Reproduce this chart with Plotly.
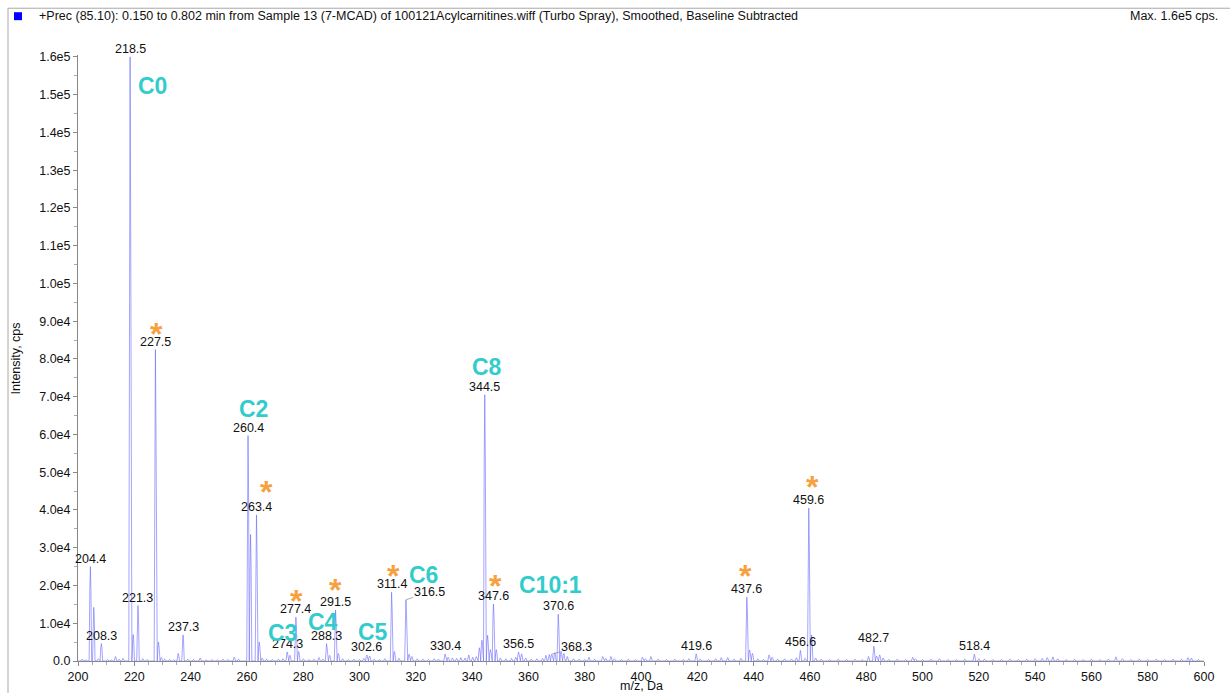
import plotly.graph_objects as go

# ---------------- data ----------------
# labelled peaks (m/z, intensity cps)
label_mz = [204.4, 208.3, 218.5, 221.3, 227.5, 237.3, 260.4, 263.4, 274.3, 277.4,
            288.3, 291.5, 302.6, 311.4, 316.5, 330.4, 344.5, 347.6, 356.5, 368.3,
            370.6, 419.6, 437.6, 456.6, 459.6, 482.7, 518.4]
label_int = [25000, 4600, 160000, 14700, 82500, 6900, 59700, 38700, 2400, 11600,
             4600, 13500, 1600, 18200, 16200, 1800, 70500, 15100, 2400, 1800,
             12400, 1900, 16900, 2800, 40500, 3900, 1800]

# unlabelled peaks and baseline noise
minor_mz = [201.5, 202.8, 205.6, 207.2, 210.5, 211.8, 213.3, 214.6, 216.0, 219.6,
            223.0, 224.5, 228.6, 229.6, 230.8, 232.5, 234.0, 235.6, 239.0, 241.0,
            243.4, 245.5, 247.5, 249.5, 251.5, 253.2, 255.5, 257.0, 261.3, 264.4,
            265.4, 267.0, 269.0, 271.2, 272.8, 275.3, 278.4, 280.0, 282.0, 283.8,
            285.6, 287.0, 289.4, 292.5, 294.0, 296.0, 298.0, 300.0, 301.5, 303.6,
            305.2, 307.0, 309.0, 312.4, 314.0, 317.6, 318.6, 320.5, 322.5, 324.5,
            326.5, 328.0, 331.5, 333.0, 334.5, 336.0, 337.5, 338.8, 340.2, 341.5,
            342.6, 343.5, 345.5, 346.5, 348.6, 350.0, 352.0, 354.0, 355.5, 357.6,
            359.0, 361.0, 363.0, 365.0, 366.2, 367.4, 369.4, 371.6, 372.6, 373.8,
            376.0, 378.0, 380.0, 381.5, 383.5, 386.4, 387.5, 389.3, 390.5, 393.0,
            395.5, 398.0, 400.5, 401.6, 403.5, 406.0, 409.0, 412.0, 415.0, 417.0,
            421.0, 424.0, 426.5, 428.5, 430.8, 433.0, 435.5, 438.6, 439.6, 441.5,
            443.5, 445.5, 446.6, 448.5, 451.0, 453.5, 455.2, 458.3, 460.6, 462.0,
            464.0, 467.0, 470.0, 473.0, 476.0, 478.5, 480.8, 483.7, 484.8, 486.0,
            488.0, 491.0, 494.0, 496.5, 497.5, 500.0, 503.0, 506.0, 509.0, 512.0,
            515.0, 520.0, 522.0, 525.0, 528.0, 531.0, 534.0, 537.0, 540.0, 542.5,
            544.3, 546.3, 548.0, 551.0, 554.0, 557.0, 560.0, 563.0, 566.0, 568.7,
            571.0, 574.0, 577.0, 580.0, 583.0, 586.0, 589.0, 592.0, 594.3, 595.5,
            598.0]
minor_int = [500, 300, 14200, 600, 400, 300, 1200, 500, 700, 7000,
             600, 400, 5000, 900, 500, 400, 300, 2000, 500, 400,
             800, 300, 400, 300, 500, 400, 1000, 500, 33500, 5000,
             800, 500, 400, 500, 600, 1500, 2500, 600, 400, 500,
             900, 500, 1500, 2000, 600, 400, 500, 400, 700, 1300,
             500, 400, 600, 2500, 700, 1800, 1200, 600, 500, 400,
             600, 500, 1000, 800, 700, 900, 800, 1600, 1000, 1200,
             3500, 5500, 6800, 3000, 3000, 800, 600, 700, 1000, 1900,
             800, 500, 600, 700, 1500, 1700, 2200, 2600, 2000, 1200,
             600, 500, 400, 1000, 500, 1200, 700, 1200, 600, 400,
             500, 400, 1000, 600, 1200, 500, 400, 500, 400, 600,
             500, 400, 600, 900, 900, 500, 700, 2900, 2000, 600,
             400, 1600, 1000, 500, 600, 500, 900, 700, 6900, 800,
             500, 400, 500, 400, 500, 400, 1200, 1300, 1600, 800,
             400, 500, 400, 1000, 600, 400, 500, 600, 400, 400,
             500, 600, 500, 400, 400, 500, 400, 500, 600, 700,
             900, 1100, 600, 400, 500, 400, 500, 400, 500, 1100,
             600, 400, 500, 400, 500, 400, 500, 500, 900, 800,
             400]

# compound annotations
compound_names = ["C0", "C2", "C3", "C4", "C5", "C6", "C8", "C10:1"]
compound_x = [226.6, 262.2, 272.8, 287.0, 304.8, 322.9, 345.3, 368.0]
compound_y = [152300, 66700, 7400, 10300, 7600, 22900, 78000, 20000]

# asterisk annotations
star_x = [228.0, 267.0, 277.55, 291.65, 312.0, 348.4, 437.1, 460.75]
star_y = [88850, 46960, 18100, 20820, 24640, 21920, 24560, 48220]

# axis ticks
y_tickvals = [0, 10000, 20000, 30000, 40000, 50000, 60000, 70000, 80000, 90000,
              100000, 110000, 120000, 130000, 140000, 150000, 160000]
y_ticktext = ["0.0", "1.0e4", "2.0e4", "3.0e4", "4.0e4", "5.0e4", "6.0e4", "7.0e4",
              "8.0e4", "9.0e4", "1.0e5", "1.1e5", "1.2e5", "1.3e5", "1.4e5",
              "1.5e5", "1.6e5"]
x_tickvals = list(range(200, 601, 20))

header_text = ("+Prec (85.10): 0.150 to 0.802 min from Sample 13 (7-MCAD) of "
               "100121Acylcarnitines.wiff (Turbo Spray), Smoothed, Baseline Subtracted")
max_text = "Max. 1.6e5 cps."

# ---------------- build spectrum ----------------
peaks = sorted(zip(label_mz + minor_mz, label_int + minor_int))
shape_off = [-0.45, -0.2, 0.0, 0.2, 0.45]
shape_frac = [0.0, 0.75, 1.0, 0.75, 0.0]
xs, ys = [200.0], [0.0]
for mz, inten in peaks:
    for o, f in zip(shape_off, shape_frac):
        xs.append(mz + o)
        ys.append(inten * f)
xs.append(600.0)
ys.append(0.0)

# ---------------- layout geometry ----------------
W, H = 1230, 696
L, R, T, B = 78, 26, 55, 32
PW, PH = W - L - R, H - T - B


def px(xp):
    return (xp - L) / PW


def py(yp):
    return (H - B - yp) / PH


FONT = "Liberation Sans, Arial, sans-serif"
FS = 12.5

fig = go.Figure()
fig.add_trace(go.Scatter(x=xs, y=ys, mode="lines",
                         line=dict(color="rgba(105,105,255,0.6)", width=1),
                         hoverinfo="skip", showlegend=False))
# start marker
fig.add_trace(go.Scatter(x=[198.3], y=[0], mode="markers", cliponaxis=False,
                         marker=dict(symbol="triangle-right", size=10, color="#0000ff"),
                         hoverinfo="skip", showlegend=False))

annotations = []
leader = {316.5: (24, -8), 368.3: (25, -7)}
for mz, inten in zip(label_mz, label_int):
    if mz in leader:
        ax, ay = leader[mz]
        annotations.append(dict(x=mz, y=inten, text=f"{mz:.1f}", showarrow=True,
                                arrowhead=0, arrowwidth=0.7, arrowcolor="#888888",
                                ax=ax, ay=ay, standoff=0,
                                font=dict(family=FONT, size=FS, color="#111111")))
    else:
        annotations.append(dict(x=mz, y=inten, text=f"{mz:.1f}", showarrow=False,
                                xanchor="center", yanchor="bottom", yshift=-1,
                                font=dict(family=FONT, size=FS, color="#111111")))

for name, cx, cy in zip(compound_names, compound_x, compound_y):
    annotations.append(dict(x=cx, y=cy, text=f"<b>{name}</b>", showarrow=False,
                            xanchor="center", yanchor="middle",
                            font=dict(family=FONT, size=23, color="#33cccc")))

for sx, sy in zip(star_x, star_y):
    annotations.append(dict(x=sx, y=sy, text="<b>*</b>", showarrow=False,
                            xanchor="center", yanchor="middle", yshift=-8,
                            font=dict(family=FONT, size=32, color="#f7a040")))

annotations.append(dict(xref="paper", yref="paper", x=px(37), y=py(16), text=header_text,
                        showarrow=False, xanchor="left", yanchor="middle",
                        font=dict(family=FONT, size=FS, color="#111111")))
annotations.append(dict(xref="paper", yref="paper", x=px(1220), y=py(16), text=max_text,
                        showarrow=False, xanchor="right", yanchor="middle",
                        font=dict(family=FONT, size=FS, color="#111111")))
annotations.append(dict(xref="paper", yref="paper", x=px(16), y=py(360),
                        text="Intensity, cps", textangle=-90, showarrow=False,
                        xanchor="center", yanchor="middle",
                        font=dict(family=FONT, size=FS, color="#111111")))
annotations.append(dict(xref="paper", yref="paper", x=px(641), y=py(689),
                        text="m/z, Da", showarrow=False,
                        xanchor="center", yanchor="middle",
                        font=dict(family=FONT, size=FS, color="#111111")))

shapes = [
    dict(type="line", xref="paper", yref="paper", x0=px(8), x1=px(1230), y0=py(8), y1=py(8),
         line=dict(color="#a8a8a8", width=1)),
    dict(type="line", xref="paper", yref="paper", x0=px(8), x1=px(8), y0=py(8), y1=py(696),
         line=dict(color="#a8a8a8", width=1)),
    dict(type="rect", xref="paper", yref="paper", x0=px(14), x1=px(22), y0=py(20), y1=py(12),
         fillcolor="#0000ff", line=dict(width=0)),
]

fig.update_layout(
    width=W, height=H,
    margin=dict(l=L, r=R, t=T, b=B),
    paper_bgcolor="white", plot_bgcolor="white",
    showlegend=False,
    annotations=annotations,
    shapes=shapes,
    font=dict(family=FONT, size=FS, color="#111111"),
    xaxis=dict(range=[200, 600], tickvals=x_tickvals, ticks="outside", ticklen=4,
               tickcolor="#888888", showline=True, linecolor="#888888", linewidth=1,
               showgrid=False, zeroline=False,
               tickfont=dict(family=FONT, size=FS, color="#111111"),
               minor=dict(dtick=5, ticks="outside", ticklen=3, tickcolor="#aaaaaa")),
    yaxis=dict(range=[0, 160500], tickvals=y_tickvals, ticktext=y_ticktext,
               ticks="outside", ticklen=4, tickcolor="#888888", showline=True,
               linecolor="#888888", linewidth=1, showgrid=False, zeroline=False,
               tickfont=dict(family=FONT, size=FS, color="#111111"),
               minor=dict(tickvals=[v + 5000 for v in y_tickvals[:-1]], ticks="outside",
                          ticklen=3, tickcolor="#aaaaaa")),
)

fig.write_html("out.html", config={"displayModeBar": False},
               post_script="document.body.style.margin='0px';")
